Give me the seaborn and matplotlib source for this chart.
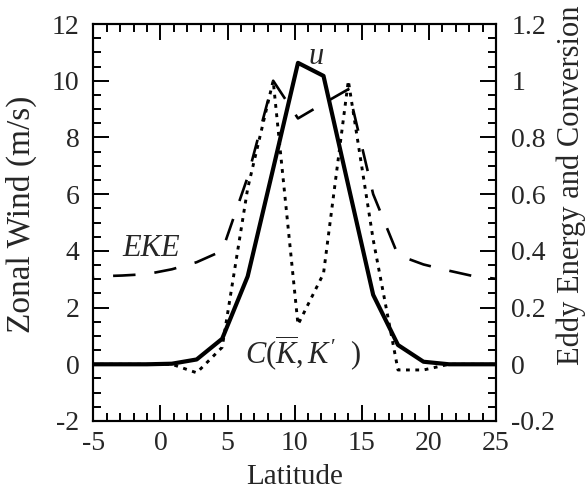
import matplotlib
matplotlib.use("Agg")
import matplotlib.pyplot as plt
from matplotlib.ticker import MultipleLocator, FuncFormatter
import seaborn as sns
import pandas as pd

# Latitude grid (degrees)
lat = [-6.6, -4.7, -2.85, -1.0, 0.85, 2.7, 4.6, 6.5, 8.4, 10.25, 12.15,
       14.0, 15.85, 17.7, 19.6, 21.5, 23.4, 25.3]
# Zonal-mean zonal wind (m/s)
u = [0, 0, 0, 0, 0.02, 0.17, 0.9, 3.1, 6.9, 10.63, 10.17,
     6.3, 2.45, 0.68, 0.09, 0, 0, 0]
# Eddy kinetic energy
eke = [0.30, 0.31, 0.313, 0.318, 0.335, 0.36, 0.40, 0.66, 1.0, 0.867, 0.92,
       0.97, 0.60, 0.385, 0.352, 0.33, 0.31, 0.30]
# Barotropic conversion C(Kbar, K')
conv = [0, 0, 0, 0, 0, -0.03, 0.06, 0.62, 1.0, 0.14, 0.32,
        1.0, 0.44, -0.02, -0.02, 0, 0, 0]

df = pd.DataFrame({"lat": lat, "u": u, "eke": eke, "conv": conv})

sns.set_style("ticks")
plt.rcParams["font.family"] = ["Liberation Serif", "DejaVu Serif"]
plt.rcParams["mathtext.fontset"] = "custom"
plt.rcParams["mathtext.rm"] = "Liberation Serif"
plt.rcParams["mathtext.it"] = "Liberation Serif:italic"
plt.rcParams["axes.unicode_minus"] = False

fig = plt.figure(figsize=(5.88, 4.95), dpi=100)
ax = fig.add_axes([0.1587, 0.1495, 0.6848, 0.802])
ax2 = ax.twinx()

sns.lineplot(data=df, x="lat", y="eke", ax=ax2, color="black", lw=1.9,
             linestyle=(0, (8.5, 7.2)), sort=False, errorbar=None)
sns.lineplot(data=df, x="lat", y="conv", ax=ax2, color="black", lw=2.1,
             linestyle=(0, (1.3, 1.9)), sort=False, errorbar=None)
sns.lineplot(data=df, x="lat", y="u", ax=ax, color="black", lw=3.0,
             sort=False, errorbar=None)

# keep the wind curve above the energy curves
ax.set_zorder(ax2.get_zorder() + 1)
ax.patch.set_visible(False)

ax.set_xlim(-5, 25)
ax.set_ylim(-2, 12)
ax2.set_ylim(-0.2, 1.2)

fmt = FuncFormatter(lambda v, p: f"{round(v, 3):g}")
ax.xaxis.set_major_locator(MultipleLocator(5))
ax.xaxis.set_minor_locator(MultipleLocator(1))
ax.yaxis.set_major_locator(MultipleLocator(2))
ax.yaxis.set_minor_locator(MultipleLocator(0.5))
ax2.yaxis.set_major_locator(MultipleLocator(0.2))
ax2.yaxis.set_minor_locator(MultipleLocator(0.05))
ax.xaxis.set_major_formatter(fmt)
ax.yaxis.set_major_formatter(fmt)
ax2.yaxis.set_major_formatter(fmt)

ax.tick_params(axis="x", which="both", direction="in", top=True, bottom=True,
               labelsize=20, pad=7)
ax.tick_params(axis="y", which="both", direction="in", left=True, right=False,
               labelsize=20, pad=10)
ax2.tick_params(axis="y", which="both", direction="in", right=True,
                labelsize=20, pad=11)
for a in (ax, ax2):
    a.tick_params(which="major", length=11.5, width=1.4, color="black")
    a.tick_params(which="minor", length=5.8, width=1.4, color="black")
    for s in a.spines.values():
        s.set_linewidth(1.5)
        s.set_color("black")
        s.set_visible(True)

ax.set_xlabel("Latitude", fontsize=21, labelpad=6)
ax.set_ylabel("Zonal Wind (m/s)", fontsize=24)
ax.yaxis.set_label_coords(-0.14, 0.52)
ax2.set_ylabel("Eddy Energy and Conversion", fontsize=22)
ax2.yaxis.set_label_coords(1.151, 0.594)

ax.text(11.6, 10.85, "u", fontsize=22, style="italic", ha="center", va="center")
ax.text(-0.7, 4.07, "EKE", fontsize=22, style="italic", ha="center", va="center")
ax.text(6.3, 0.4, r"$C(\overline{K},K'\ \ )$", fontsize=22, ha="left",
        va="center")

fig.savefig("out.png", dpi=100)
